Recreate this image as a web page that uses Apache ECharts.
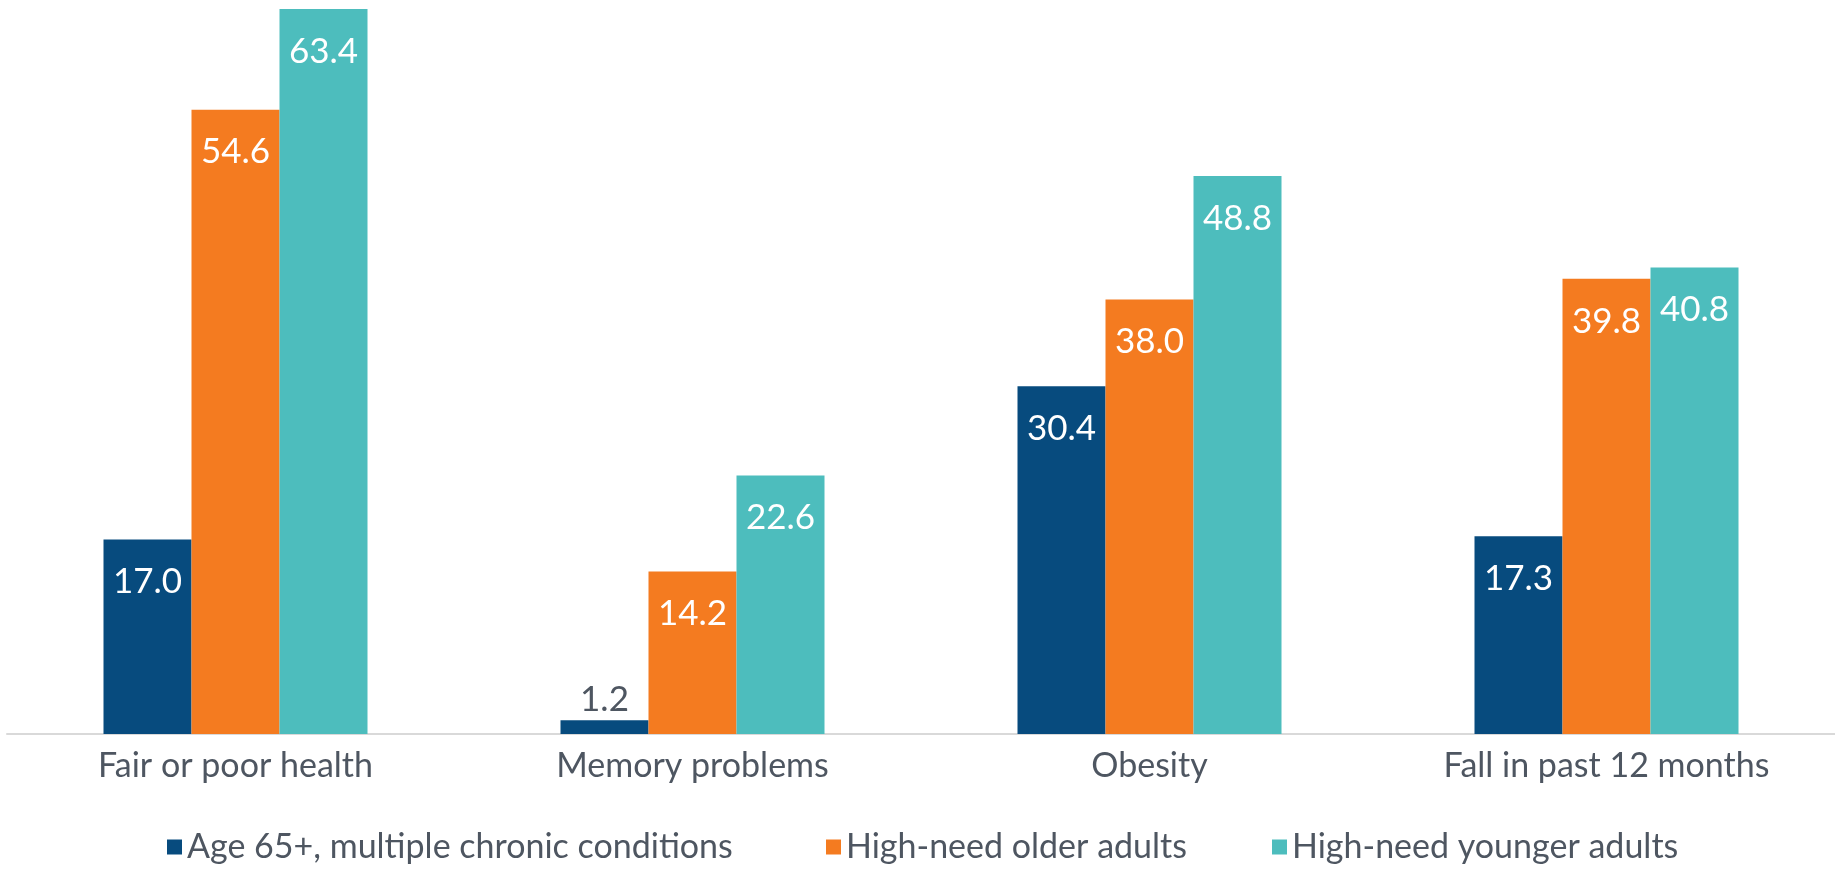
<!DOCTYPE html>
<html>
<head>
<meta charset="utf-8">
<script src="https://cdn.jsdelivr.net/npm/echarts@6/dist/echarts.min.js"></script>
<style>
  html, body { margin: 0; padding: 0; background: #ffffff; }
  #chart { width: 1835px; height: 872px; }
</style>
</head>
<body>
<div id="chart"></div>
<script>
// Health conditions by group (percent)
const categories = ['Fair or poor health', 'Memory problems', 'Obesity', 'Fall in past 12 months'];
const seriesNames = ['Age 65+, multiple chronic conditions', 'High-need older adults', 'High-need younger adults'];
const age65Multiple = [17.0, 1.2, 30.4, 17.3];
const highNeedOlder = [54.6, 14.2, 38.0, 39.8];
const highNeedYounger = [63.4, 22.6, 48.8, 40.8];

const colors = ['#074b7e', '#f47b20', '#4dbdbd'];
const textColor = '#4e5661';
const fontFamily = 'Lato, "Noto Sans", sans-serif';

const seriesValues = [age65Multiple, highNeedOlder, highNeedYounger];
const legendLefts = [167, 826, 1272];

const chart = echarts.init(document.getElementById('chart'));

// Values too small to hold a label inside the bar get it above, in grey
function makeData(values) {
  return values.map(v => v < 5
    ? { value: v, label: { position: 'top', distance: 3, color: textColor } }
    : v);
}

chart.setOption({
  animation: false,
  color: colors,
  textStyle: { fontFamily: fontFamily },
  grid: { left: 7, right: -3, top: 9, bottom: 138 },
  legend: seriesNames.map((name, i) => ({
    data: [name],
    left: legendLefts[i],
    top: 830,
    padding: 0,
    itemWidth: 15,
    itemHeight: 15,
    itemGap: 0,
    icon: 'rect',
    textStyle: { fontSize: 34, color: textColor, fontFamily: fontFamily }
  })),
  xAxis: {
    type: 'category',
    data: categories,
    axisLine: { show: true, lineStyle: { color: '#d9d9d9', width: 2 } },
    axisTick: { show: false },
    axisLabel: { fontSize: 34, color: textColor, margin: 15, fontFamily: fontFamily }
  },
  yAxis: {
    type: 'value',
    min: 0,
    max: 63.4,
    show: false,
    splitLine: { show: false }
  },
  series: seriesNames.map((name, i) => ({
    name: name,
    type: 'bar',
    barWidth: 88,
    barGap: '0%',
    data: makeData(seriesValues[i]),
    label: {
      show: true,
      position: 'insideTop',
      distance: 25,
      color: '#ffffff',
      fontSize: 35,
      fontFamily: fontFamily,
      formatter: p => p.value.toFixed(1)
    }
  }))
});
</script>
</body>
</html>
